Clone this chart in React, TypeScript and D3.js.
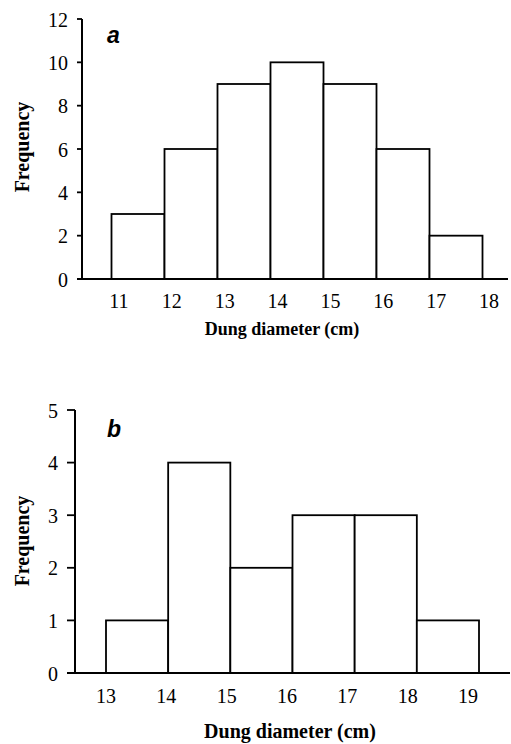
import React from "react";
import * as d3 from "d3";

// panel a
const edgesA = [11, 12, 13, 14, 15, 16, 17, 18];
const countsA = [3, 6, 9, 10, 9, 6, 2];
const yTicksA = [0, 2, 4, 6, 8, 10, 12];

// panel b
const edgesB = [13, 14, 15, 16, 17, 18, 19];
const countsB = [1, 4, 2, 3, 3, 1];
const yTicksB = [0, 1, 2, 3, 4, 5];

const serif = "'Liberation Serif', 'Times New Roman', serif";
const sans = "'Liberation Sans', Arial, sans-serif";

type PanelProps = {
  edges: number[];
  counts: number[];
  yTicks: number[];
  letter: string;
  barRange: [number, number];
  labelRange: [number, number];
  yRange: [number, number];
  axisX: number;
  tickLen: number;
  axisEnd: number;
  xTitleX: number;
  xTitleY: number;
  tickLabelY: number;
  titleY: number;
  freqY: number;
  xTitleSize: number;
};

const Panel = (p: PanelProps) => {
  const lo = p.edges[0];
  const hi = p.edges[p.edges.length - 1];
  const x = d3.scaleLinear().domain([lo, hi]).range(p.barRange);
  // tick labels sit slightly off the bin edges in the original
  const xl = d3.scaleLinear().domain([lo, hi]).range(p.labelRange);
  const yMax = d3.max(p.yTicks) as number;
  const y = d3.scaleLinear().domain([0, yMax]).range(p.yRange);
  const y0 = y(0);

  return (
    <g>
      {/* bars */}
      {p.counts.map((c, i) => (
        <rect
          key={i}
          x={x(p.edges[i])}
          y={y(c)}
          width={x(p.edges[i + 1]) - x(p.edges[i])}
          height={y0 - y(c)}
          fill="#fff"
          stroke="#000"
          strokeWidth={1.8}
        />
      ))}

      {/* y axis */}
      <line x1={p.axisX} x2={p.axisX} y1={y(yMax)} y2={y0} stroke="#000" strokeWidth={2} />
      {p.yTicks.map((t) => (
        <g key={t}>
          <line x1={p.axisX - p.tickLen} x2={p.axisX} y1={y(t)} y2={y(t)} stroke="#000" strokeWidth={1.8} />
          <text
            x={p.axisX - p.tickLen - 9}
            y={y(t)}
            dy="0.38em"
            textAnchor="end"
            fontFamily={serif}
            fontSize={20}
          >
            {t}
          </text>
        </g>
      ))}

      {/* x axis */}
      <line x1={p.axisX - p.tickLen} x2={p.axisEnd} y1={y0} y2={y0} stroke="#000" strokeWidth={2} />
      {p.edges.map((e) => (
        <text key={e} x={xl(e)} y={p.tickLabelY} textAnchor="middle" fontFamily={serif} fontSize={20}>
          {e}
        </text>
      ))}

      <text
        x={p.xTitleX}
        y={p.xTitleY}
        textAnchor="middle"
        fontFamily={serif}
        fontWeight="bold"
        fontSize={p.xTitleSize}
      >
        Dung diameter (cm)
      </text>

      <text
        transform={`translate(29,${p.freqY}) rotate(-90)`}
        textAnchor="middle"
        fontFamily={serif}
        fontWeight="bold"
        fontSize={20}
      >
        Frequency
      </text>

      <text x={107} y={p.titleY} fontFamily={sans} fontWeight="bold" fontStyle="italic" fontSize={23}>
        {p.letter}
      </text>
    </g>
  );
};

export default function App() {
  return (
    <svg
      width={511}
      height={744}
      style={{ position: "absolute", left: 0, top: 0, background: "#fff" }}
    >
      <Panel
        edges={edgesA}
        counts={countsA}
        yTicks={yTicksA}
        letter="a"
        barRange={[111.5, 482.5]}
        labelRange={[119, 489]}
        yRange={[279, 19]}
        axisX={82}
        tickLen={5}
        axisEnd={508}
        xTitleX={282}
        xTitleY={335}
        tickLabelY={308}
        titleY={43}
        freqY={147}
        xTitleSize={18}
      />
      <Panel
        edges={edgesB}
        counts={countsB}
        yTicks={yTicksB}
        letter="b"
        barRange={[106, 479]}
        labelRange={[106, 468]}
        yRange={[673, 410]}
        axisX={75}
        tickLen={8}
        axisEnd={510}
        xTitleX={290}
        xTitleY={738}
        tickLabelY={703}
        titleY={437}
        freqY={541}
        xTitleSize={20}
      />
    </svg>
  );
}
